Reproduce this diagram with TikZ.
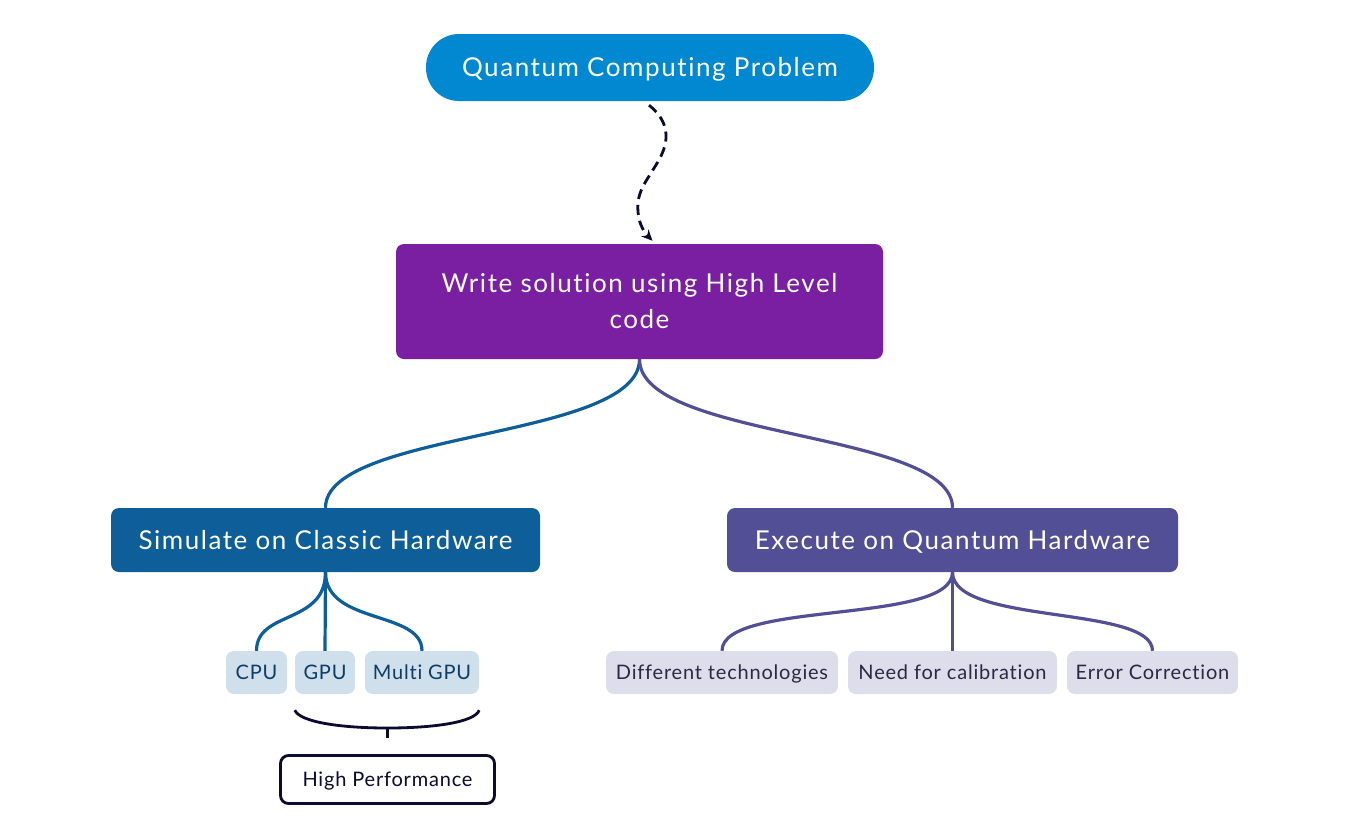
\documentclass[tikz,border=0pt]{standalone}
\usepackage{fontspec}
\setmainfont{Lato}[Ligatures=NoCommon]
\usetikzlibrary{arrows.meta}
\definecolor{topblue}{HTML}{0288D1}
\definecolor{wpurple}{HTML}{7B1FA2}
\definecolor{simblue}{HTML}{0D5E99}
\definecolor{exepurple}{HTML}{534F96}
\definecolor{cfill}{HTML}{CFDFEB}
\definecolor{ctext}{HTML}{0D3D66}
\definecolor{qfill}{HTML}{DEDDEC}
\definecolor{qtext}{HTML}{2B2840}
\definecolor{navy}{HTML}{0B0B30}
\tikzset{
  mainbox/.style={rounded corners=8pt, inner sep=0pt, text=white, text height=19pt, text depth=1pt, font=\fontsize{26}{36}\selectfont\addfontfeatures{LetterSpace=6}},
  subbox/.style={rounded corners=8pt, inner sep=0pt, text height=15pt, text depth=2pt, font=\fontsize{20}{24}\selectfont\addfontfeatures{LetterSpace=4}},
  cbox/.style={subbox, fill=cfill, text=ctext},
  qbox/.style={subbox, fill=qfill, text=qtext},
  simline/.style={draw=simblue, line width=3.2pt},
  exeline/.style={draw=exepurple, line width=3.2pt},
}
\begin{document}
\begin{tikzpicture}[x=1pt,y=-1pt]
\useasboundingbox (0,0) rectangle (1356,817);
\node[mainbox, fill=topblue, rounded corners=33pt, minimum width=448pt, minimum height=67pt] (top) at (650,67.5) {Quantum Computing Problem};
\node[mainbox, fill=wpurple, minimum width=487pt, minimum height=115pt, align=center, text height=, text depth=] (write) at (639.5,301.5) {Write solution using High Level\\code};
\node[mainbox, fill=simblue, minimum width=429pt, minimum height=64pt] (sim) at (325.5,540) {Simulate on Classic Hardware};
\node[mainbox, fill=exepurple, minimum width=451pt, minimum height=64pt] (exe) at (952.5,540) {Execute on Quantum Hardware};
\node[cbox, minimum width=61pt, minimum height=43pt] (cpu) at (256.5,672.5) {CPU};
\node[cbox, minimum width=60pt, minimum height=43pt] (gpu) at (325,672.5) {GPU};
\node[cbox, minimum width=114pt, minimum height=43pt] (mgpu) at (422,672.5) {Multi GPU};
\node[qbox, minimum width=232pt, minimum height=43pt] (diff) at (722,672.5) {Different technologies};
\node[qbox, minimum width=209pt, minimum height=43pt] (cal) at (952.5,672.5) {Need for calibration};
\node[qbox, minimum width=171pt, minimum height=43pt] (err) at (1152.5,672.5) {Error Correction};
\node[subbox, draw=navy, line width=2.8pt, fill=white, text=navy, minimum width=214pt, minimum height=48pt] (hp) at (387.5,779.5) {High Performance};
% dashed arrow
\draw[navy, line width=2.8pt, dash pattern=on 10pt off 6pt, -{Stealth[length=11pt,width=10pt]}]
  ([xshift=-1pt,yshift=-4pt]top.south) .. controls (665,118) and (672,135) .. (660,158)
  .. controls (648,180) and (636,190) .. (638,212)
  .. controls (639,225) and (645,233) .. ([xshift=13pt,yshift=3pt]write.north);
% main connectors
\draw[simline] (write.south) .. controls (639.5,440) and (325.5,430) .. (sim.north);
\draw[exeline] (write.south) .. controls (639.5,440) and (952.5,430) .. (exe.north);
% sim children
\draw[simline] (sim.south) .. controls (325.5,625) and (256.5,610) .. (cpu.north);
\draw[simline] (sim.south) -- (gpu.north);
\draw[simline] (sim.south) .. controls (325.5,625) and (422,610) .. (mgpu.north);
% exe children
\draw[exeline] (exe.south) .. controls (952.5,625) and (722,600) .. (diff.north);
\draw[exeline] (exe.south) -- (cal.north);
\draw[exeline] (exe.south) .. controls (952.5,625) and (1152.5,605) .. (err.north);
% brace
\coordinate (bl) at ([yshift=-16pt]gpu.south west);
\coordinate (br) at ([yshift=-16pt]mgpu.south east);
\coordinate (bm) at (387.5,728);
\draw[navy, line width=2.8pt] (bl) .. controls (300,722) and (340,728) .. (bm) .. controls (435,728) and (475,722) .. (br);
\draw[navy, line width=2.8pt] (bm) -- (hp.north |- 738,738);
\end{tikzpicture}
\end{document}
